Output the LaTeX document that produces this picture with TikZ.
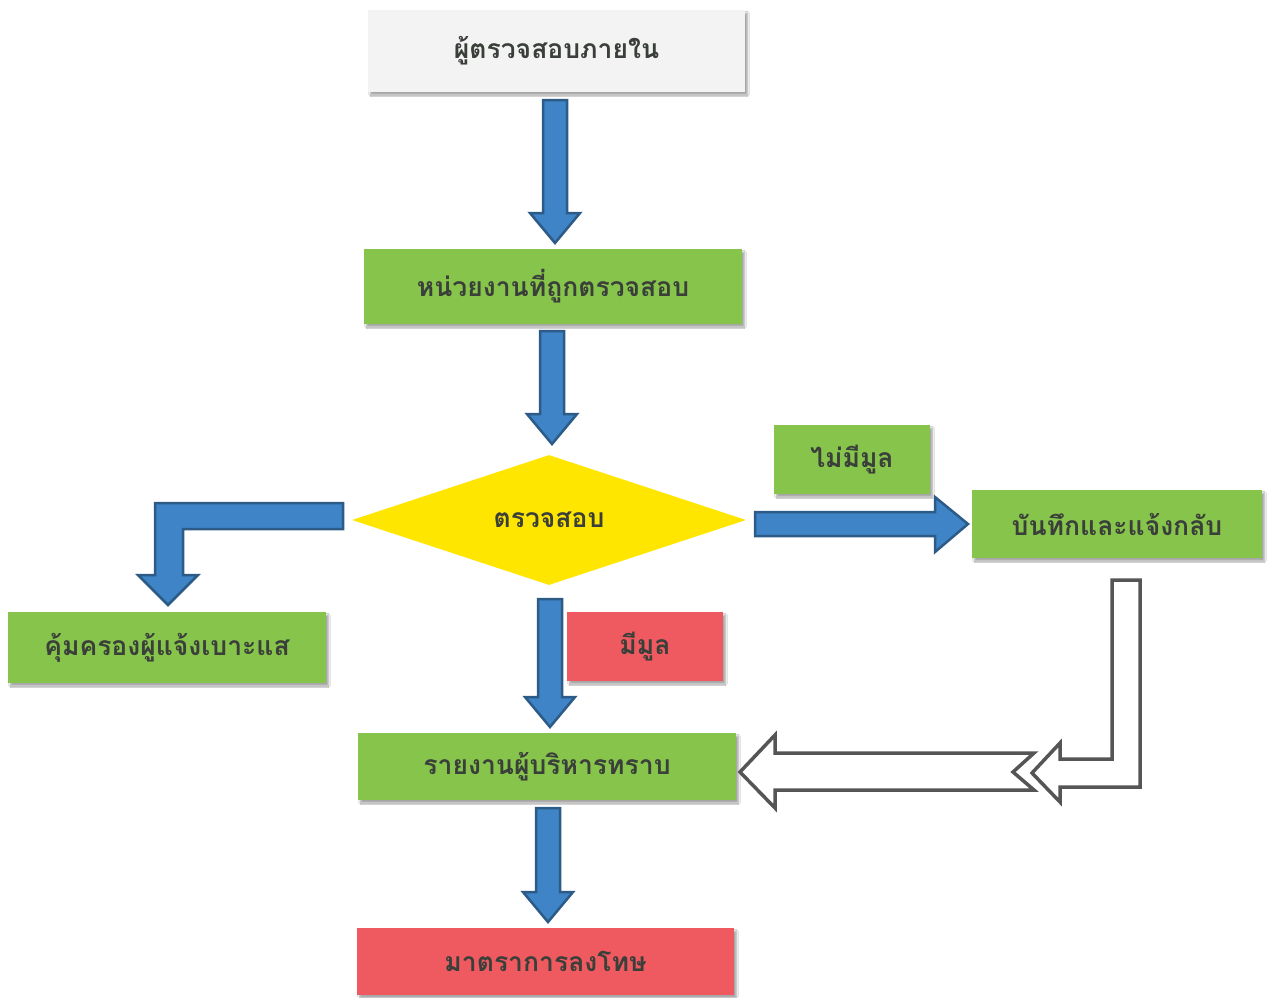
\documentclass[tikz,border=0pt]{standalone}
\usepackage{fontspec}
\newfontfamily\thaifont[Script=Thai]{Loma}
\usetikzlibrary{shapes.geometric,shadows.blur}
\definecolor{boxgreen}{HTML}{86C44C}
\definecolor{boxred}{HTML}{EE5A60}
\definecolor{boxgrey}{HTML}{F3F3F3}
\definecolor{dyellow}{HTML}{FFE600}
\definecolor{arrblue}{HTML}{3E84C6}
\definecolor{arrline}{HTML}{2D5B87}
\definecolor{txt}{HTML}{3A3F3A}
\definecolor{hollow}{HTML}{555555}
\tikzset{
  box/.style={rectangle, inner sep=0pt, text=txt, font=\thaifont\bfseries\fontsize{26.5}{30}\selectfont,
    blur shadow={shadow xshift=2.5pt, shadow yshift=-3pt, shadow blur steps=6, shadow opacity=35}},
  greenbox/.style={box, fill=boxgreen},
  redbox/.style={box, fill=boxred},
  greybox/.style={box, fill=boxgrey},
  blockarr/.style={fill=arrblue, draw=arrline, line width=2.5pt, line join=miter},
  hollowarr/.style={fill=white, draw=hollow, line width=3.5pt, line join=miter},
  pics/downarr/.style={code={
    \path[blockarr] (-12,0) -- (12,0) -- (12,#1-30) -- (25,#1-30) -- (0,#1) -- (-25,#1-30) -- (-12,#1-30) -- cycle;}}
}
\begin{document}
\begin{tikzpicture}[x=1pt,y=-1pt]
\useasboundingbox[fill=white] (0,0) rectangle (1270,997);

\node[greybox, minimum width=377, minimum height=82] (top) at (556.5,51) {ผู้ตรวจสอบภายใน};
\node[greenbox, minimum width=378, minimum height=75] (unit) at (553,286.5) {หน่วยงานที่ถูกตรวจสอบ};
\node[diamond, fill=dyellow, inner sep=0pt, minimum width=394, minimum height=130, aspect=3,
      text=txt, font=\thaifont\bfseries\fontsize{26.5}{30}\selectfont] (check) at (549,520) {ตรวจสอบ};
\node[greenbox, minimum width=156, minimum height=69] (nomerit) at (852,459.5) {ไม่มีมูล};
\node[greenbox, minimum width=290, minimum height=68] (record) at (1117,524) {บันทึกและแจ้งกลับ};
\node[greenbox, minimum width=318, minimum height=71] (protect) at (167,647.5) {คุ้มครองผู้แจ้งเบาะแส};
\node[redbox, minimum width=156, minimum height=69] (merit) at (645,646.5) {มีมูล};
\node[greenbox, minimum width=378, minimum height=67] (report) at (547,766.5) {รายงานผู้บริหารทราบ};
\node[redbox, minimum width=377, minimum height=67] (penalty) at (545.5,961.5) {มาตราการลงโทษ};

% vertical block arrows
\pic at (555,100) {downarr=143};
\pic at (552,331) {downarr=113};
\pic at (550,599) {downarr=128};
\pic at (548,808) {downarr=114};

% right block arrow to record
\path[blockarr] (755,512) -- (935,512) -- (935,497) -- (968,524) -- (935,552) -- (935,536) -- (755,536) -- cycle;

% bent block arrow to protect
\path[blockarr] (343,503) -- (343,529) -- (183,529) -- (183,575) -- (198,575) -- (168,605) -- (138,575) -- (155,575) -- (155,503) -- cycle;

% hollow bent arrow from record
\path[hollowarr] (1112,580) -- (1140,580) -- (1140,787) -- (1060,787) -- (1060,802) -- (1032,773) -- (1060,743) -- (1060,759) -- (1112,759) -- cycle;

% hollow notched arrow to report
\path[hollowarr] (740,772) -- (775,735) -- (775,753) -- (1034,753) -- (1013,772) -- (1034,790) -- (775,790) -- (775,808) -- cycle;
\end{tikzpicture}
\end{document}
